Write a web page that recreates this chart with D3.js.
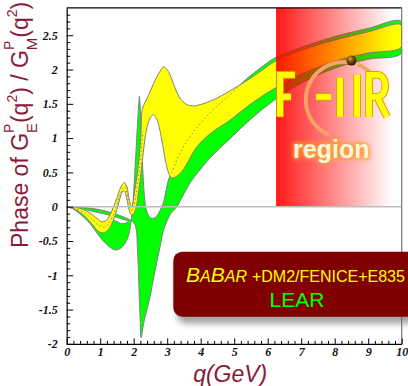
<!DOCTYPE html>
<html><head><meta charset="utf-8">
<script src="https://cdn.jsdelivr.net/npm/d3@7"></script>
<style>
html,body{margin:0;padding:0;background:#fff;}
svg{display:block;}
</style></head>
<body>
<svg id="chart" width="408" height="386"></svg>
<script>
// axis ticks
const xTickValues = [0,1,2,3,4,5,6,7,8,9,10];
const yTickValues = [-2,-1.5,-1,-0.5,0,0.5,1,1.5,2,2.5];

// green band: lower rim (near-zero strip, down spike, rising rim to q = 10)
const greenLowerRim = [[0,0],[0.4,-0.01],[0.84,-0.03],[1.29,-0.08],[1.65,-0.14],[1.85,-0.18],[1.95,-0.21],[2.03,-0.26],[2.08,-0.34],[2.11,-0.6],[2.14,-0.9],[2.165,-1.3],[2.19,-1.6],[2.22,-1.91],[2.28,-1.75],[2.34,-1.6],[2.42,-1.45],[2.49,-1.31],[2.58,-1.08],[2.68,-0.83],[2.78,-0.6],[2.88,-0.36],[3.0,-0.2],[3.12,-0.09],[3.29,0.0],[3.5,0.19],[3.7,0.36],[3.9,0.49],[4.3,0.72],[4.87,0.99],[5.5,1.28],[6.22,1.56],[7,1.8],[8,2.02],[9,2.15],[10,2.24]];
// green band: upper rim, from q = 10 back to the origin (through the up spike)
const greenUpperRim = [[10,2.70],[9,2.6],[8,2.48],[7,2.32],[6.22,2.17],[5.83,2.04],[5.38,1.87],[5.0,1.7],[4.5,1.5],[4.0,1.25],[3.5,0.9],[3.1,0.47],[3.02,0.36],[2.95,0.2],[2.88,0.05],[2.78,-0.06],[2.68,-0.14],[2.58,-0.17],[2.48,-0.15],[2.4,-0.08],[2.35,0.02],[2.31,0.22],[2.27,0.55],[2.24,0.9],[2.21,1.25],[2.19,1.5],[2.17,1.61],[2.155,1.52],[2.13,1.35],[2.09,1.0],[2.05,0.65],[2.01,0.3],[1.97,0.0],[1.94,-0.13],[1.9,-0.3],[1.84,-0.43],[1.72,-0.55],[1.6,-0.61],[1.44,-0.63],[1.29,-0.59],[1.15,-0.53],[0.99,-0.44],[0.7,-0.25],[0.5,-0.15],[0.3,-0.07],[0.15,-0.02]];
// gap inside the green band below the thin strip
const greenGap = [[0.45,-0.035],[0.84,-0.075],[1.29,-0.125],[1.65,-0.18],[1.84,-0.21],[1.72,-0.245],[1.6,-0.24],[1.5,-0.215],[1.4,-0.2],[1.3,-0.2],[1.15,-0.28],[1.0,-0.27],[0.85,-0.2],[0.7,-0.13],[0.55,-0.07]];

// yellow band: upper edge (origin to q = 10) and lower edge (q = 10 back to origin)
const yellowUpper = [[0,0],[0.25,-0.01],[0.5,-0.04],[0.75,-0.11],[0.95,-0.19],[1.08,-0.22],[1.2,-0.19],[1.33,-0.08],[1.45,0.06],[1.55,0.2],[1.64,0.31],[1.72,0.35],[1.79,0.3],[1.85,0.15],[1.9,0.04],[1.95,0.0],[2.02,0.2],[2.1,0.45],[2.17,0.75],[2.21,1.0],[2.23,1.25],[2.25,1.4],[2.3,1.48],[2.38,1.56],[2.49,1.68],[2.6,1.8],[2.72,1.92],[2.82,2.0],[2.88,2.04],[2.96,2.02],[3.06,1.95],[3.16,1.83],[3.26,1.7],[3.4,1.57],[3.55,1.5],[3.75,1.47],[4.0,1.49],[4.43,1.57],[4.88,1.69],[5.38,1.84],[5.83,1.99],[6.22,2.12],[7,2.28],[8,2.43],[9,2.55],[10,2.65]];
const yellowLower = [[10,2.33],[9,2.24],[8,2.12],[7,1.93],[6.22,1.73],[5.5,1.5],[4.87,1.26],[4.3,1.07],[3.88,0.87],[3.65,0.68],[3.48,0.54],[3.3,0.45],[3.14,0.42],[3.06,0.47],[2.98,0.6],[2.9,0.8],[2.82,1.02],[2.74,1.2],[2.66,1.3],[2.58,1.34],[2.5,1.3],[2.42,1.2],[2.34,1.0],[2.27,0.72],[2.2,0.42],[2.13,0.16],[2.06,-0.04],[1.99,-0.11],[1.93,-0.12],[1.87,-0.06],[1.82,0.05],[1.77,0.17],[1.72,0.23],[1.66,0.22],[1.6,0.14],[1.5,-0.04],[1.38,-0.21],[1.25,-0.33],[1.1,-0.38],[0.95,-0.36],[0.75,-0.25],[0.5,-0.12],[0.25,-0.04]];

// central value of the yellow solution (dotted)
const centralLow = [[0.2,-0.02],[0.5,-0.08],[0.75,-0.18],[0.95,-0.27],[1.1,-0.3],[1.25,-0.25],[1.38,-0.13],[1.5,0.03],[1.6,0.18],[1.68,0.27],[1.74,0.29],[1.8,0.2],[1.86,0.05],[1.92,-0.05],[1.98,-0.04],[2.05,0.12],[2.12,0.35],[2.19,0.62],[2.24,0.9],[2.27,1.1]];
const centralHigh = [[3.13,0.49],[3.4,0.8],[3.8,1.1],[4.3,1.38],[4.8,1.6],[5.1,1.74]];

// FAIR region and its marker
const fairRange = [6.25, 10];
const fairBall = [8.5, 2.13];

const svg = d3.select("#chart");
const x = d3.scaleLinear().domain([0,10]).range([66.7,401.7]);
const y = d3.scaleLinear().domain([-2,2.9]).range([343.9,7.8]);

const defs = svg.append("defs");
defs.append("clipPath").attr("id","plotClip").append("rect")
  .attr("x",x(0)).attr("y",y(2.9)).attr("width",x(10)-x(0)).attr("height",y(-2)-y(2.9));
const fg = defs.append("linearGradient").attr("id","fairGrad").attr("x1",0).attr("x2",1).attr("y1",0).attr("y2",0);
fg.append("stop").attr("offset",0).attr("stop-color","#ff0000").attr("stop-opacity",0.9);
fg.append("stop").attr("offset",0.93).attr("stop-color","#ff0000").attr("stop-opacity",0);
const bg = defs.append("radialGradient").attr("id","ballGrad").attr("cx","38%").attr("cy","32%").attr("r","70%");
bg.append("stop").attr("offset",0).attr("stop-color","#e0a848");
bg.append("stop").attr("offset",0.45).attr("stop-color","#7a4800");
bg.append("stop").attr("offset",1).attr("stop-color","#2a1400");
defs.append("filter").attr("id","glow").attr("x","-30%").attr("y","-30%").attr("width","160%").attr("height","160%")
  .append("feGaussianBlur").attr("stdDeviation",2.2);
defs.append("filter").attr("id","shadow").attr("x","-20%").attr("y","-30%").attr("width","140%").attr("height","160%")
  .append("feGaussianBlur").attr("stdDeviation",3);

const closed = d3.line().x(d=>x(d[0])).y(d=>y(d[1])).curve(d3.curveCatmullRomClosed.alpha(0.5));
const open = d3.line().x(d=>x(d[0])).y(d=>y(d[1])).curve(d3.curveCatmullRom.alpha(0.5));

const plot = svg.append("g").attr("clip-path","url(#plotClip)");

plot.append("path").attr("d", closed(greenLowerRim.concat(greenUpperRim)))
  .attr("fill","#00ff00").attr("stroke","#808080").attr("stroke-width",1);
plot.append("path").attr("d", closed(greenGap))
  .attr("fill","#ffffff").attr("stroke","#808080").attr("stroke-width",1);
plot.append("path").attr("d", closed(yellowUpper.concat(yellowLower)))
  .attr("fill","#ffff00").attr("stroke","#808080").attr("stroke-width",1);
[centralLow, centralHigh].forEach(c => plot.append("path").attr("d", open(c))
  .attr("fill","none").attr("stroke","#808080").attr("stroke-width",1).attr("stroke-dasharray","1.5,2.5"));

// FAIR region
const fx0 = x(fairRange[0]), fx1 = x(fairRange[1]), fy0 = y(2.9), fy1 = y(0);
plot.append("rect").attr("x",fx0).attr("y",fy0).attr("width",fx1-fx0).attr("height",fy1-fy0)
  .attr("fill","url(#fairGrad)");

plot.append("line").attr("x1",x(0)).attr("x2",x(10)).attr("y1",y(0)).attr("y2",y(0))
  .attr("stroke","#bdbdbd").attr("stroke-width",1.5);

// logo ring around the marker
const ringCenter = [x(fairBall[0]) - 7.7, y(fairBall[1]) + 39.3];
const ring = d3.arc().innerRadius(36).outerRadius(40);
const logo = svg.append("g");
logo.append("path").attr("transform",`translate(${ringCenter})`)
  .attr("d", ring({startAngle:-157*Math.PI/180, endAngle:11*Math.PI/180})).attr("fill","#f4a468");
logo.append("path").attr("transform",`translate(${ringCenter})`)
  .attr("d", ring({startAngle:21*Math.PI/180, endAngle:49*Math.PI/180})).attr("fill","#f4a468");

// letters
const letters = logo.append("g").attr("transform",`translate(${fx0},${fy0})`);
const glyphs = [
  "M4,109 V67 H19 M4,89 H15",
  "M40,89 H55 M64,109 V70",
  "M81,109 V67",
  "M93,109 V67 H101 C112,67 112,89 101,89 H93 M101,89 L111,109"
];
glyphs.forEach(g => letters.append("path").attr("d",g).attr("fill","none")
  .attr("stroke","#d8a010").attr("stroke-width",7.8));
glyphs.forEach(g => letters.append("path").attr("d",g).attr("fill","none")
  .attr("stroke","#ffff00").attr("stroke-width",5.8));

logo.append("circle").attr("cx",x(fairBall[0])).attr("cy",y(fairBall[1])).attr("r",5)
  .attr("fill","url(#ballGrad)");

logo.append("text").attr("x",fx0+17).attr("y",fy0+150.5)
  .attr("font-family","'Liberation Sans', Arial, sans-serif").attr("font-weight","bold").attr("font-size",25)
  .attr("fill","#ff9a30").attr("stroke","#ff9a30").attr("stroke-width",3).attr("filter","url(#glow)").text("region");
logo.append("text").attr("x",fx0+17).attr("y",fy0+150.5)
  .attr("font-family","'Liberation Sans', Arial, sans-serif").attr("font-weight","bold").attr("font-size",25)
  .attr("fill","#fff6dc").text("region");

// frame
svg.append("line").attr("x1",x(0)).attr("x2",x(10)).attr("y1",y(2.9)).attr("y2",y(2.9)).attr("stroke","#000").attr("stroke-width",1.2);
svg.append("line").attr("x1",x(10)).attr("x2",x(10)).attr("y1",y(2.9)).attr("y2",y(-2)).attr("stroke","#777").attr("stroke-width",1.2);

const tickFont = g => g.selectAll("text").attr("font-family","'Liberation Serif', 'Times New Roman', serif")
  .attr("font-weight","bold").attr("font-style","italic").attr("font-size",12).attr("fill","#111");

const yAxis = svg.append("g").attr("transform",`translate(${x(0)},0)`)
  .call(d3.axisLeft(y).tickValues(yTickValues).tickSizeInner(-6.5).tickSizeOuter(0).tickPadding(9).tickFormat(d=>String(d)));
yAxis.call(tickFont);
yAxis.select(".domain").attr("stroke","#000").attr("stroke-width",1.2);
svg.append("g").attr("transform",`translate(${x(0)},0)`)
  .call(d3.axisLeft(y).tickValues(d3.range(-20,29).map(v=>v/10).filter(v=>Math.abs(v*2-Math.round(v*2))>1e-6))
    .tickSizeInner(-3.5).tickSizeOuter(0).tickFormat(""))
  .call(g=>{ g.select(".domain").remove(); g.selectAll("text").remove(); });

const xAxis = svg.append("g").attr("transform",`translate(0,${y(-2)})`)
  .call(d3.axisBottom(x).tickValues(xTickValues).tickSizeInner(-5.5).tickSizeOuter(0).tickPadding(4).tickFormat(d=>String(d)));
xAxis.call(tickFont);
xAxis.select(".domain").attr("stroke","#000").attr("stroke-width",1.2);
svg.append("g").attr("transform",`translate(0,${y(-2)})`)
  .call(d3.axisBottom(x).tickValues(d3.range(0,51).map(v=>v/5).filter(v=>Math.abs(v-Math.round(v))>1e-6))
    .tickSizeInner(-3).tickSizeOuter(0).tickFormat(""))
  .call(g=>{ g.select(".domain").remove(); g.selectAll("text").remove(); });

// axis titles
const labelColor = "#8b1a3a";
const yt = svg.append("text").attr("transform","translate(28,248) rotate(-90)")
  .attr("font-family","'Liberation Sans', Arial, sans-serif").attr("font-size",23).attr("fill",labelColor);
yt.append("tspan").text("Phase of G");
yt.append("tspan").attr("font-size",14).attr("dy",-14).text("P");
yt.append("tspan").attr("font-size",15).attr("dx",-9.5).attr("dy",23).text("E");
yt.append("tspan").attr("dy",-9).text("(q");
yt.append("tspan").attr("font-size",14).attr("dy",-11).text("2");
yt.append("tspan").attr("dy",11).text(") / G");
yt.append("tspan").attr("font-size",14).attr("dy",-14).text("P");
yt.append("tspan").attr("font-size",15).attr("dx",-9.5).attr("dy",23).text("M");
yt.append("tspan").attr("dy",-9).text("(q");
yt.append("tspan").attr("font-size",14).attr("dy",-11).text("2");
yt.append("tspan").attr("dy",11).text(")");

svg.append("text").attr("x",(x(0)+x(10))/2 - 4).attr("y",381.5).attr("text-anchor","middle")
  .attr("font-family","'Liberation Sans', Arial, sans-serif").attr("font-size",23).attr("font-style","italic")
  .attr("fill",labelColor).text("q(GeV)");

// experiment legend
const lg = svg.append("g");
lg.append("rect").attr("x",177).attr("y",258.5).attr("width",260).attr("height",65).attr("rx",9)
  .attr("fill","#555").attr("opacity",0.55).attr("filter","url(#shadow)");
lg.append("rect").attr("x",173.3).attr("y",251.7).attr("width",260).attr("height",65).attr("rx",9)
  .attr("fill","#800000");
const l1 = lg.append("text").attr("x",186).attr("y",281.7)
  .attr("font-family","'Liberation Sans', Arial, sans-serif").attr("fill","#ffff00");
l1.append("tspan").attr("font-style","italic").attr("font-size",21).text("B");
l1.append("tspan").attr("font-style","italic").attr("font-size",16).text("A");
l1.append("tspan").attr("font-style","italic").attr("font-size",21).text("B");
l1.append("tspan").attr("font-style","italic").attr("font-size",16).text("AR");
l1.append("tspan").attr("font-size",16).attr("dx",5).text("+DM2/FENICE+E835");
lg.append("text").attr("x",297).attr("y",306.7).attr("text-anchor","middle")
  .attr("font-family","'Liberation Sans', Arial, sans-serif").attr("font-size",21).attr("fill","#00ff00").text("LEAR");
</script>
</body></html>
